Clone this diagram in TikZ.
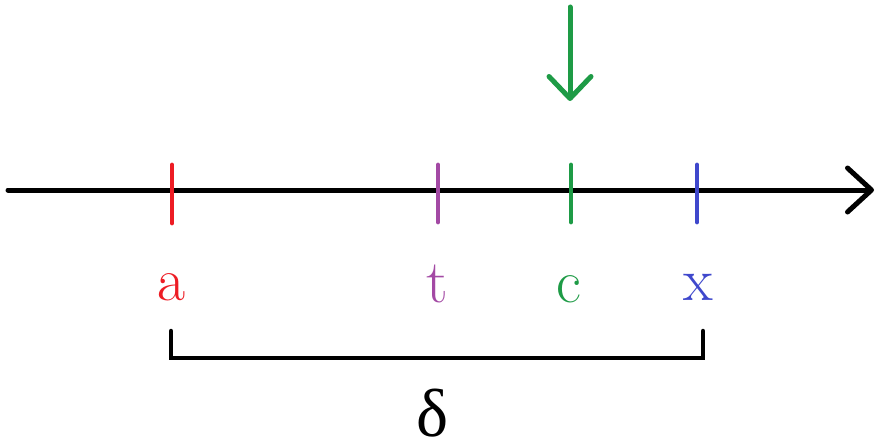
\documentclass[tikz,border=0pt]{standalone}
\usepackage{fontspec}
\newfontfamily\grkfont{Liberation Serif}
\usetikzlibrary{arrows.meta}
\definecolor{cred}{RGB}{237,28,36}
\definecolor{cpurple}{RGB}{163,73,164}
\definecolor{cgreen}{RGB}{30,155,70}
\definecolor{cblue}{RGB}{63,72,204}
\begin{document}
\begin{tikzpicture}[x=1pt,y=-1pt,
  axisline/.style={line width=5pt,line cap=round,-{Straight Barb[length=24pt,width=44pt,line cap=round,line join=round]}},
  tickmark/.style={line width=4.8pt,line cap=round},
  lbl/.style={anchor=base,inner sep=0pt,font=\fontsize{61}{61}\selectfont},
  bracketline/.style={line width=4.5pt,line cap=round,line join=miter}]
\useasboundingbox (0,0) rectangle (877,444);
% axis
\coordinate (L) at (8,190);
\coordinate (R) at (874,190);
\draw[axisline] (L) -- (R);
% ticks
\coordinate (a1) at (172,165); \coordinate (a2) at (172,223);
\coordinate (t1) at (438,165); \coordinate (t2) at (438,222);
\coordinate (c1) at (571,165); \coordinate (c2) at (571,222);
\coordinate (x1) at (697,165); \coordinate (x2) at (697,222);
\draw[tickmark,cred] (a1) -- (a2);
\draw[tickmark,cpurple] (t1) -- (t2);
\draw[tickmark,cgreen] (c1) -- (c2);
\draw[tickmark,cblue] (x1) -- (x2);
% labels
\node[lbl,text=cred] (la) at (171,300) {a};
\node[lbl,text=cpurple] (lt) at (437,302) {t};
\node[lbl,text=cgreen] (lc) at (569,302) {c};
\node[lbl,text=cblue] (lx) at (698,300) {x};
% green arrow
\coordinate (g1) at (570,7);
\coordinate (g2) at (570,101);
\draw[line width=5pt,cgreen,line cap=round,-{Straight Barb[length=22pt,width=42pt,line cap=round,line join=round]}] (g1) -- (g2);
% bracket
\coordinate (b1) at (171,331);
\coordinate (b2) at (171,358);
\coordinate (b3) at (703,358);
\coordinate (b4) at (703,331);
\draw[bracketline] (b1) -- (b2) -- (b3) -- (b4);
\node[anchor=base,inner sep=0pt,text depth=0pt,text height=46pt,font=\grkfont\fontsize{68}{68}\selectfont] (d) at (433,436) {δ};
\end{tikzpicture}
\end{document}
